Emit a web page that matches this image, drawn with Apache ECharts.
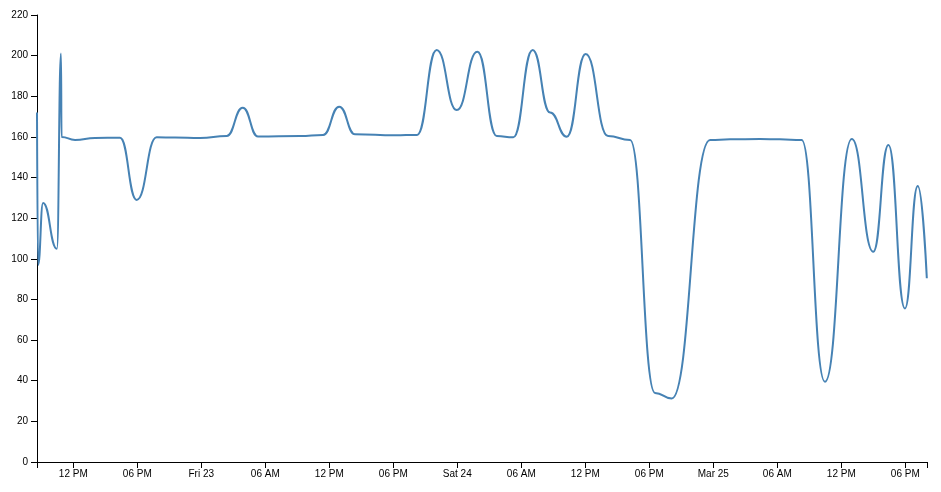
<!DOCTYPE html>
<html>
<head>
<meta charset="utf-8">
<script src="https://cdn.jsdelivr.net/npm/echarts@6/dist/echarts.min.js"></script>
<style>
  html, body { margin: 0; padding: 0; background: #fff; }
  #chart { width: 941px; height: 492px; }
</style>
</head>
<body>
<div id="chart"></div>
<script>
// ---- data (peaks, troughs and plateau points) ----
const times = [
  '2018-03-22 08:36', '2018-03-22 08:42', '2018-03-22 09:10', '2018-03-22 10:28', '2018-03-22 10:51',
  '2018-03-22 10:54', '2018-03-22 12:10', '2018-03-22 14:02', '2018-03-22 16:23', '2018-03-22 17:57',
  '2018-03-22 19:49', '2018-03-22 21:32', '2018-03-22 23:53', '2018-03-23 02:23', '2018-03-23 03:53',
  '2018-03-23 05:19', '2018-03-23 09:15', '2018-03-23 11:25', '2018-03-23 12:56', '2018-03-23 14:25',
  '2018-03-23 18:10', '2018-03-23 20:14', '2018-03-23 22:04', '2018-03-23 23:57', '2018-03-24 01:53',
  '2018-03-24 03:42', '2018-03-24 05:15', '2018-03-24 07:04', '2018-03-24 08:42', '2018-03-24 10:16',
  '2018-03-24 12:02', '2018-03-24 14:08', '2018-03-24 16:12', '2018-03-24 18:32', '2018-03-24 20:06',
  '2018-03-24 23:42', '2018-03-25 01:34', '2018-03-25 04:23', '2018-03-25 06:15', '2018-03-25 08:17',
  '2018-03-25 10:28', '2018-03-25 12:59', '2018-03-25 15:00', '2018-03-25 16:25', '2018-03-25 17:58',
  '2018-03-25 19:10', '2018-03-25 20:01'
];
const values = [
  172, 97, 127.5, 105, 201,
  160, 158.5, 159.5, 159.6, 129,
  159.8, 159.7, 159.5, 160.5, 174.4,
  160.2, 160.5, 161, 174.9, 161.3,
  160.8, 161, 202.8, 173.2, 201.9,
  160.4, 159.8, 202.8, 172, 160.1,
  200.8, 160.4, 158.5, 34, 31.3,
  158.5, 158.8, 159, 158.8, 158.5,
  39.5, 159, 103.5, 156, 75.6,
  135.8, 90.4
];
const axisStart = '2018-03-22 08:36';
const axisEnd = '2018-03-25 20:02';
const tickTimes = [
  '2018-03-22 12:00', '2018-03-22 18:00', '2018-03-23 00:00', '2018-03-23 06:00',
  '2018-03-23 12:00', '2018-03-23 18:00', '2018-03-24 00:00', '2018-03-24 06:00',
  '2018-03-24 12:00', '2018-03-24 18:00', '2018-03-25 00:00', '2018-03-25 06:00',
  '2018-03-25 12:00', '2018-03-25 18:00'
];
const tickLabels = [
  '12 PM', '06 PM', 'Fri 23', '06 AM', '12 PM', '06 PM', 'Sat 24', '06 AM',
  '12 PM', '06 PM', 'Mar 25', '06 AM', '12 PM', '06 PM'
];
const yMin = 0, yMax = 220, yStep = 20;

// ---- helpers ----
function parseT(s) {
  const [d, t] = s.split(' ');
  const [Y, M, D] = d.split('-').map(Number);
  const [h, m] = t.split(':').map(Number);
  return new Date(Y, M - 1, D, h, m).getTime();
}
const xMin = parseT(axisStart), xMax = parseT(axisEnd);
const tickVals = tickTimes.map(parseT);
const labelMap = {};
tickVals.forEach((v, i) => { labelMap[v] = tickLabels[i]; });
const seriesData = times.map((t, i) => [parseT(t), values[i]]);

const FONT = 'Liberation Sans, Arial, sans-serif';
const chart = echarts.init(document.getElementById('chart'), null, { renderer: 'canvas' });
chart.setOption({
  animation: false,
  backgroundColor: '#ffffff',
  grid: { left: 37, right: 14, top: 15, bottom: 30, outerBoundsMode: 'none' },
  xAxis: {
    type: 'value',
    min: xMin, max: xMax,
    axisLine: { show: true, onZero: false, lineStyle: { color: '#000', width: 1 } },
    axisTick: { show: true, length: 6, lineStyle: { color: '#000' }, customValues: [xMin].concat(tickVals, [xMax]) },
    axisLabel: {
      show: true, customValues: tickVals, color: '#000', fontSize: 10, fontFamily: FONT, margin: 7,
      formatter: (v) => labelMap[v] || ''
    },
    splitLine: { show: false }
  },
  yAxis: {
    type: 'value',
    min: yMin, max: yMax, interval: yStep,
    axisLine: { show: true, lineStyle: { color: '#000', width: 1 } },
    axisTick: { show: true, length: 6, lineStyle: { color: '#000' } },
    axisLabel: { color: '#000', fontSize: 10, fontFamily: FONT, margin: 9 },
    splitLine: { show: false }
  },
  series: [{
    type: 'line',
    data: seriesData,
    showSymbol: false,
    symbol: 'none',
    smooth: 0.5,
    smoothMonotone: 'x',
    lineStyle: { color: '#4682b4', width: 2 },
    z: 3
  }]
});
</script>
</body>
</html>
